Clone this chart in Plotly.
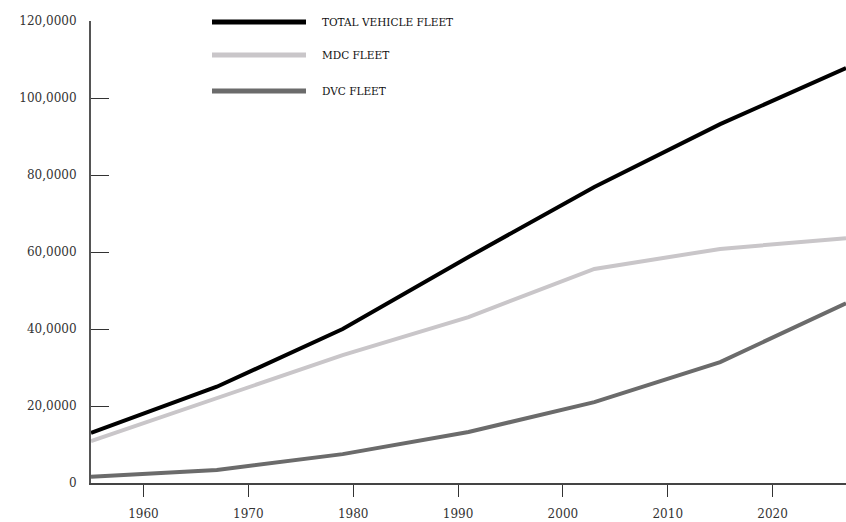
import plotly.graph_objects as go

years = [1955, 1967, 1979, 1991, 2003, 2015, 2027]
total_fleet = [13000, 25000, 40000, 58700, 76900, 93200, 107800]
mdc_fleet = [10900, 22000, 33200, 43100, 55600, 60800, 63600]
dvc_fleet = [1650, 3400, 7500, 13250, 21000, 31400, 46700]

series_names = ["TOTAL VEHICLE FLEET", "MDC FLEET", "DVC FLEET"]
series_colors = ["#000000", "#c9c6c9", "#6b6b6b"]

x_tick_vals = [1960, 1970, 1980, 1990, 2000, 2010, 2020]
y_tick_vals = [0, 20000, 40000, 60000, 80000, 100000, 120000]
y_tick_text = ["0", "20,0000", "40,0000", "60,0000", "80,0000", "100,0000", "120,0000"]

W, H = 846, 522
L, R, T, B = 91, 0, 21, 39
PW, PH = W - L - R, H - T - B

font_family = "DejaVu Serif, Liberation Serif, serif"

fig = go.Figure()
for name, vals, col in zip(series_names, [total_fleet, mdc_fleet, dvc_fleet], series_colors):
    fig.add_trace(go.Scatter(x=years, y=vals, mode="lines", name=name,
                             line=dict(color=col, width=4), showlegend=False))

# custom legend (long line samples)
legend_y_px = [22, 55, 91]
for name, col, py in zip(series_names, series_colors, legend_y_px):
    yp = (H - B - py) / PH
    fig.add_shape(type="line", xref="paper", yref="paper",
                  x0=(212 - L) / PW, x1=(306 - L) / PW, y0=yp, y1=yp,
                  line=dict(color=col, width=5))
    fig.add_annotation(xref="paper", yref="paper", x=(320 - L) / PW, y=yp,
                       text=name, showarrow=False, xanchor="left", yanchor="middle",
                       font=dict(family=font_family, size=10.5, color="#111111"))

fig.update_layout(
    width=W, height=H,
    margin=dict(l=L, r=R, t=T, b=B, pad=0),
    plot_bgcolor="white", paper_bgcolor="white",
    font=dict(family=font_family, size=12, color="#333333"),
    xaxis=dict(range=[1955, 2027], tickvals=x_tick_vals, ticks="outside", ticklen=12,
               tickwidth=1.2, tickcolor="#333333", showgrid=False, zeroline=False,
               showline=True, linecolor="#444444", linewidth=1.5, ticklabelstandoff=7,
               tickfont=dict(size=12, color="#333333")),
    yaxis=dict(range=[0, 120000], tickvals=y_tick_vals, ticktext=y_tick_text,
               ticks="inside", ticklen=18, tickwidth=1.2, tickcolor="#333333",
               showgrid=False, zeroline=False, showline=True, linecolor="#555555",
               linewidth=2, ticklabelstandoff=10,
               tickfont=dict(size=12, color="#333333")),
)

fig.write_html("out.html", config={"displayModeBar": False},
               post_script="document.body.style.margin='0';document.body.style.overflow='hidden';")
